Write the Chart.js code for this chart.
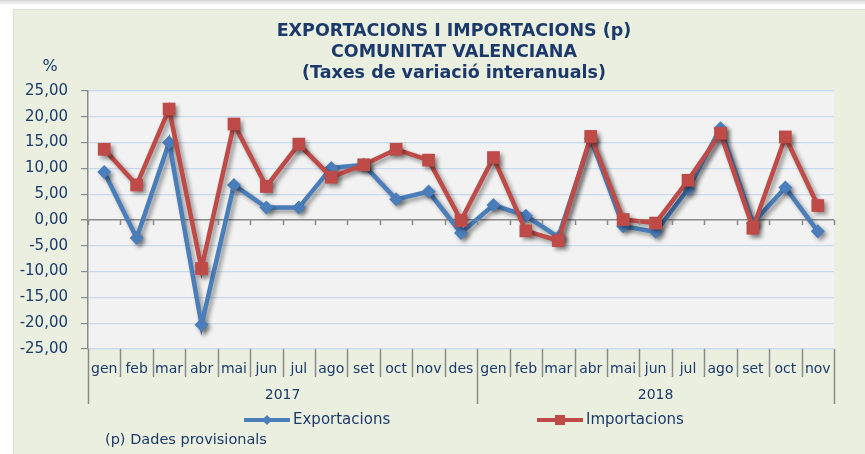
<!DOCTYPE html>
<html>
<head>
<meta charset="utf-8">
<script src="https://cdn.jsdelivr.net/npm/chart.js@4.4.1/dist/chart.umd.min.js"></script>
<style>
  html, body { margin: 0; padding: 0; background: #ffffff; }
  #wrap { position: absolute; left: 0; top: 0; width: 865px; height: 454px; }
</style>
</head>
<body>
<div id="wrap"><canvas id="c" width="865" height="454"></canvas></div>
<script>
const months = ['gen','feb','mar','abr','mai','jun','jul','ago','set','oct','nov','des',
                'gen','feb','mar','abr','mai','jun','jul','ago','set','oct','nov'];
const years = ['2017', '2018'];
const yearStarts = [0, 12];
const exportacions = [9.3, -3.5, 15.0, -20.3, 6.8, 2.4, 2.4, 10.1, 10.7, 4.0, 5.5, -2.5,
                      2.9, 0.8, -3.3, 15.8, -1.2, -2.3, 6.0, 17.8, -0.6, 6.3, -2.2];
const importacions = [13.7, 6.8, 21.5, -9.4, 18.6, 6.5, 14.7, 8.3, 10.7, 13.7, 11.6, -0.1,
                      12.1, -2.1, -4.0, 16.2, 0.1, -0.6, 7.7, 16.8, -1.6, 16.1, 2.8];
const titleLines = ['EXPORTACIONS I IMPORTACIONS (p)', 'COMUNITAT VALENCIANA', '(Taxes de variació interanuals)'];
const yUnit = '%';
const footnote = '(p) Dades provisionals';

const NAVY = '#1B3A6B';
const BLUE = '#4A7EBB';
const RED = '#BE4B48';
const AXIS = '#8A8A8A';
const GRID = '#C8D9EE';
const FONT = '"DejaVu Sans", Verdana, sans-serif';

const decorPlugin = {
  id: 'decor',
  beforeDraw(chart) {
    const ctx = chart.ctx, W = chart.width, H = chart.height, ca = chart.chartArea;
    ctx.save();
    ctx.fillStyle = '#ffffff';
    ctx.fillRect(0, 0, W, H);
    const g = ctx.createLinearGradient(0, 0, 0, 5);
    g.addColorStop(0, '#d4d4d4'); g.addColorStop(1, '#ffffff');
    ctx.fillStyle = g; ctx.fillRect(0, 0, W, 5);
    ctx.fillStyle = '#EBEFDF';
    ctx.fillRect(14, 10, W - 14, H - 10);
    ctx.strokeStyle = '#D9DCD2'; ctx.lineWidth = 1;
    ctx.beginPath(); ctx.moveTo(13.5, H); ctx.lineTo(13.5, 9.5); ctx.lineTo(W, 9.5); ctx.stroke();
    ctx.fillStyle = '#F2F2F2';
    ctx.fillRect(ca.left, ca.top, ca.right - ca.left, ca.bottom - ca.top);
    ctx.restore();
  },
  beforeDatasetsDraw(chart) {
    const ctx = chart.ctx;
    ctx.save();
    ctx.shadowColor = 'rgba(0,0,0,0.38)';
    ctx.shadowBlur = 4;
    ctx.shadowOffsetX = 3;
    ctx.shadowOffsetY = 3;
  },
  afterDatasetsDraw(chart) {
    chart.ctx.restore();
  },
  afterDraw(chart) {
    const ctx = chart.ctx, ca = chart.chartArea, xs = chart.scales.x, ys = chart.scales.y;
    const n = months.length;
    const cell = xs.getPixelForValue(1) - xs.getPixelForValue(0);
    const bnd = i => xs.getPixelForValue(i) - cell / 2;
    const y0 = ys.getPixelForValue(0);
    ctx.save();
    ctx.strokeStyle = AXIS; ctx.lineWidth = 1.5;
    ctx.beginPath();
    for (let i = 0; i <= n; i++) {
      const x = Math.round(bnd(i)) + 0.5;
      const isYear = yearStarts.includes(i) || i === n;
      ctx.moveTo(x, ca.bottom);
      ctx.lineTo(x, ca.bottom + (isYear ? 55 : 28));
      ctx.moveTo(x, y0);
      ctx.lineTo(x, y0 + 5);
    }
    ctx.stroke();
    ctx.fillStyle = NAVY;
    ctx.font = '14px ' + FONT;
    ctx.textAlign = 'center'; ctx.textBaseline = 'middle';
    years.forEach((yr, k) => {
      const a = yearStarts[k], b = (k + 1 < yearStarts.length ? yearStarts[k + 1] : n);
      ctx.fillText(yr, (bnd(a) + bnd(b)) / 2, ca.bottom + 46);
    });
    ctx.font = 'bold 17.5px ' + FONT;
    titleLines.forEach((t, i) => ctx.fillText(t, 454, 31 + i * 21));
    ctx.font = '16px ' + FONT;
    ctx.fillText(yUnit, 50, 67);
    const items = [{ ds: 0, x: 244 }, { ds: 1, x: 537 }];
    const ly = 420;
    items.forEach(it => {
      const ds = chart.data.datasets[it.ds];
      ctx.strokeStyle = ds.borderColor; ctx.lineWidth = 4;
      ctx.beginPath(); ctx.moveTo(it.x, ly); ctx.lineTo(it.x + 46, ly); ctx.stroke();
      ctx.fillStyle = ds.backgroundColor;
      const cx = it.x + 23;
      if (ds.pointStyle === 'rect') {
        ctx.fillRect(cx - 5, ly - 5, 10, 10);
      } else {
        ctx.beginPath(); ctx.moveTo(cx, ly - 5); ctx.lineTo(cx + 5, ly); ctx.lineTo(cx, ly + 5); ctx.lineTo(cx - 5, ly); ctx.closePath(); ctx.fill();
      }
      ctx.fillStyle = NAVY; ctx.textAlign = 'left';
      ctx.font = '15px ' + FONT;
      ctx.fillText(ds.label, it.x + 49, ly);
    });
    ctx.font = '14.5px ' + FONT;
    ctx.textAlign = 'left';
    ctx.fillText(footnote, 105, 440);
    ctx.restore();
  }
};

new Chart(document.getElementById('c'), {
  type: 'line',
  data: {
    labels: months,
    datasets: [
      {
        label: 'Exportacions', data: exportacions,
        borderColor: BLUE, backgroundColor: BLUE, borderWidth: 4.5,
        pointStyle: 'rectRot', pointRadius: 7, pointHoverRadius: 7,
        pointBorderWidth: 0, tension: 0, order: 2
      },
      {
        label: 'Importacions', data: importacions,
        borderColor: RED, backgroundColor: RED, borderWidth: 4.5,
        pointStyle: 'rect', pointRadius: 9, pointHoverRadius: 9,
        pointBorderWidth: 0, tension: 0, order: 1
      }
    ]
  },
  options: {
    responsive: false,
    animation: false,
    events: [],
    layout: { padding: { left: 14, right: 31, top: 91, bottom: 50 } },
    plugins: { legend: { display: false }, title: { display: false }, tooltip: { enabled: false } },
    scales: {
      x: {
        type: 'category', offset: true,
        grid: { display: false, drawTicks: false },
        border: { display: false },
        ticks: { autoSkip: false, maxRotation: 0, padding: 12, color: NAVY, font: { family: FONT, size: 14 } },
        afterFit(s) { s.height = 55; }
      },
      y: {
        min: -25, max: 25,
        ticks: {
          stepSize: 5, padding: 13, color: NAVY, font: { family: FONT, size: 15 },
          callback: v => v.toFixed(2).replace('.', ',')
        },
        grid: {
          color: c => (c.tick && c.tick.value === 0 ? AXIS : GRID),
          lineWidth: c => (c.tick && c.tick.value === 0 ? 1.5 : 1.2),
          tickColor: AXIS, tickLength: 7
        },
        border: { display: true, color: AXIS, width: 1.5 },
        afterFit(s) { s.width = 74; }
      }
    }
  },
  plugins: [decorPlugin]
});
</script>
</body>
</html>
